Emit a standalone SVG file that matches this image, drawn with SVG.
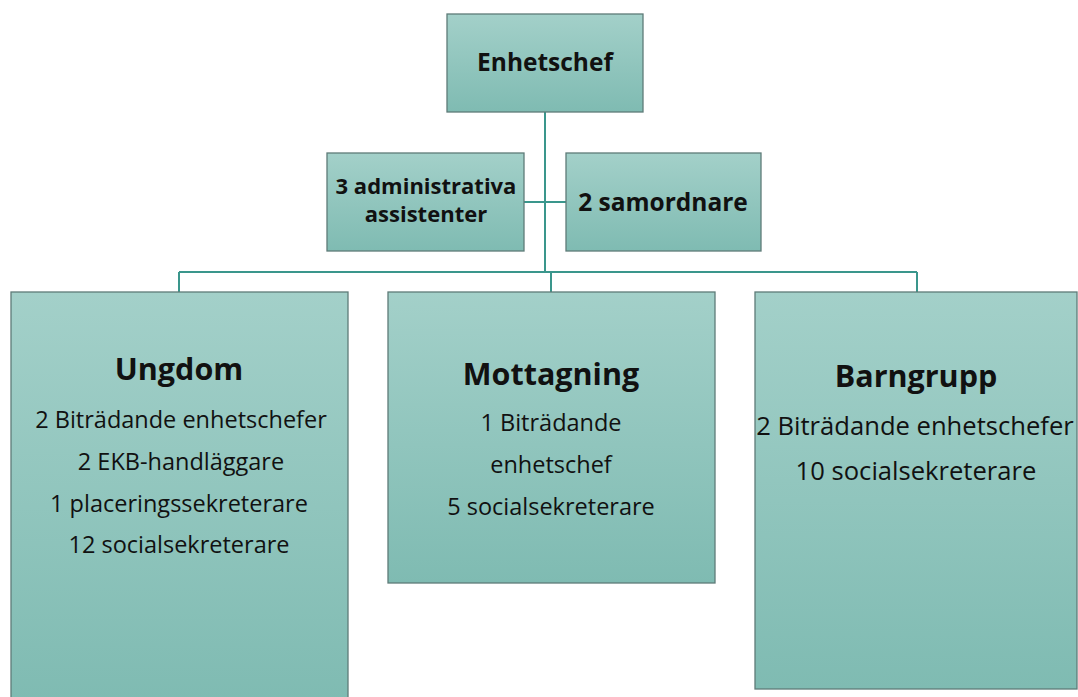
<svg xmlns="http://www.w3.org/2000/svg" width="1078" height="697" viewBox="0 0 1078 697">
<defs>
<linearGradient id="g" x1="0" y1="0" x2="0" y2="1">
<stop offset="0" stop-color="#a3d0c9"/>
<stop offset="1" stop-color="#7fbbb2"/>
</linearGradient>
<style>
.box{fill:url(#g);stroke:#5e7b78;stroke-width:1.3}
.t{font-family:"Open Sans",Lato,sans-serif;fill:#111;text-anchor:middle}
.b{font-weight:bold}
.h{font-size:24.5px}
.ha{font-size:22px}
.ti{font-size:30.5px}
.bd{font-size:23.5px}
.bb{font-size:25.6px}
.c{stroke:#3a968c;stroke-width:2;fill:none}
</style>
</defs>
<rect width="1078" height="697" fill="#fff"/>
<g id="connectors">
<path class="c" d="M545 112 V272 M524 202 H566 M179 272 H917 M179 272 V292 M551 272 V292 M917 272 V292"/>
</g>
<g id="enhetschef">
<rect class="box" x="447" y="14" width="196" height="98"/>
<text class="t b h" x="545" y="71">Enhetschef</text>
</g>
<g id="admin">
<rect class="box" x="327" y="153" width="197" height="98"/>
<text class="t b ha" x="426" y="194">3 administrativa</text>
<text class="t b ha" x="426" y="222">assistenter</text>
</g>
<g id="samordnare">
<rect class="box" x="566" y="153" width="195" height="98"/>
<text class="t b h" x="663" y="211">2 samordnare</text>
</g>
<g id="ungdom">
<rect class="box" x="11" y="292" width="337" height="410"/>
<text class="t b ti" x="179" y="380">Ungdom</text>
<text class="t bd" x="181" y="428">2 Biträdande enhetschefer</text>
<text class="t bd" x="181" y="470">2 EKB-handläggare</text>
<text class="t bd" x="179" y="512">1 placeringssekreterare</text>
<text class="t bd" x="179" y="553">12 socialsekreterare</text>
</g>
<g id="mottagning">
<rect class="box" x="388" y="292" width="327" height="291"/>
<text class="t b ti" x="551" y="385">Mottagning</text>
<text class="t bd" x="551" y="431">1 Biträdande</text>
<text class="t bd" x="551" y="473">enhetschef</text>
<text class="t bd" x="551" y="515">5 socialsekreterare</text>
</g>
<g id="barngrupp">
<rect class="box" x="755" y="292" width="322" height="397"/>
<text class="t b ti" x="916" y="387">Barngrupp</text>
<text class="t bb" x="915" y="435">2 Biträdande enhetschefer</text>
<text class="t bb" x="916" y="480">10 socialsekreterare</text>
</g>
</svg>
